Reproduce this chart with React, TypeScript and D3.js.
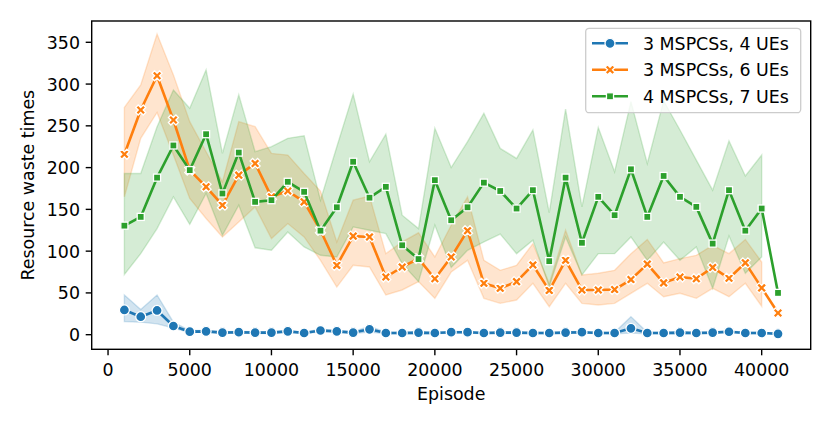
import React from "react";
import * as d3 from "d3";

const episodes = [1000, 2000, 3000, 4000, 5000, 6000, 7000, 8000, 9000, 10000, 11000, 12000, 13000, 14000, 15000, 16000, 17000, 18000, 19000, 20000, 21000, 22000, 23000, 24000, 25000, 26000, 27000, 28000, 29000, 30000, 31000, 32000, 33000, 34000, 35000, 36000, 37000, 38000, 39000, 40000, 41000];

const blueMean = [29.6, 21.5, 29, 10.4, 3.6, 4, 2.5, 3, 2.5, 2.5, 4, 2, 5, 4, 2.5, 6.4, 2, 2, 2.5, 2, 3, 3, 2, 2.5, 2.5, 2, 2, 2.5, 3, 2, 2, 7.6, 2, 2, 2.5, 2, 2.5, 3.5, 2, 2, 1];
const blueLow = [15.6, 15, 13, 8, 2.5, 3, 1.5, 2, 1.5, 1.5, 3, 1, 3.5, 3, 1.5, 3, 1, 1, 1.5, 1, 2, 2, 1, 1.5, 1.5, 1, 1, 1.5, 2, 1, 1, 2, 1, 1, 1.5, 1, 1.5, 2.5, 1, 1, null];
const blueHigh = [47.5, 30, 47.5, 15, 5, 5, 3.5, 4, 3.5, 3.5, 5, 3, 6.5, 5, 3.5, 10, 3, 3, 3.5, 3, 4, 4, 3, 3.5, 3.5, 3, 3, 3.5, 4, 3, 3, 21.5, 3, 3, 3.5, 3, 3.5, 4.5, 3, 3, null];

const orangeMean = [216, 269, 310, 257, 197, 177, 155, 191, 205, 165, 172, 159, 125, 83, 118, 117, 69, 81, 91, 67, 93, 124.5, 61.5, 55.5, 63.5, 83.5, 53, 89, 53.5, 53.5, 54, 66, 84.5, 62, 69, 67, 80.5, 67.5, 86, 56, 26];
const orangeHigh = [272, 299, 360, 311, 255, 219, 183, 255, 249, 217, 215, 193, 172, 111, 161, 166, 97, 111, 122, 93, 131, 165, 89, 77, 83, 109, 61.5, 125, 71.5, 73.5, 77, 97, 114, 86, 91, 95, 107, 97, 114, 87, null];
const orangeLow = [165, 235, 266, 215, 163, 139, 117, 135, 153, 115, 133, 117, 89, 57, 83, 81, 47.5, 53.5, 63.5, 43.5, 75, 89, 43.5, 37.5, 41.5, 61.5, 33.5, 61.5, 37.5, 35.5, 37.5, 49.5, 61.5, 45.5, 49.5, 43.5, 55.5, 45.5, 61.5, 34, null];

const greenMean = [130.5, 141, 188, 226.5, 197, 240, 169, 218, 159, 161, 183, 171, 124.5, 152.5, 207, 164, 177, 107, 90.5, 185, 137, 152.5, 182, 172, 151, 173, 88, 188, 110, 165, 143, 198, 141, 190, 165, 153, 109, 173, 124.5, 151, 50];
const greenHigh = [193, 193, 249, 293, 271, 317, 217, 287, 219, 225, 235, 238, 161, 225, 288, 207, 240, 143, 127, 247, 200, 231, 265, 223, 211, 245, 146, 270, 153, 248, 195, 279, 205, 280, 245, 209, 173, 232, 190, 215, null];
const greenLow = [72, 97, 127, 165, 132, 169, 119, 155, 104, 101, 123, 105, 95, 93, 129, 125, 121, 85, 63.5, 131, 80.5, 101, 111, 120.5, 97, 113, 57.5, 117, 71.5, 97, 97, 117, 89, 111, 89, 105, 55.5, 118, 73.5, 93, null];

const seriesNames = ["3 MSPCSs, 4 UEs", "3 MSPCSs, 6 UEs", "4 MSPCSs, 7 UEs"];
const seriesColors = ["#1f77b4", "#ff7f0e", "#2ca02c"];
const seriesMarkers = ["circle", "x", "square"];

const xTicks = [0, 5000, 10000, 15000, 20000, 25000, 30000, 35000, 40000];
const yTicks = [0, 50, 100, 150, 200, 250, 300, 350];

const W = 830;
const H = 425;
const L = 91.7, R = 810.7, T = 21, B = 349.3;
const FONT = "DejaVu Sans, Verdana, sans-serif";
const FS = 17.4;

const x = d3.scaleLinear().domain([-1000, 43000]).range([L, R]);
const y = d3.scaleLinear().domain([-17.5, 375.5]).range([B, T]);

const MS = 10;
const xFilledPts = [[-1, -2], [0, -1], [1, -2], [2, -1], [1, 0], [2, 1], [1, 2], [0, 1], [-1, 2], [-2, 1], [-1, 0], [-2, -1]];
const xPath =
  "M" + xFilledPts.map(([a, b]) => ((a / 4) * MS).toFixed(2) + "," + ((b / 4) * MS).toFixed(2)).join("L") + "Z";

function Marker({ kind, cx, cy, color }: { kind: string; cx: number; cy: number; color: string }) {
  const sw = 1.3;
  if (kind === "circle") return <circle cx={cx} cy={cy} r={MS / 2} fill={color} stroke="#fff" strokeWidth={sw} />;
  if (kind === "square") {
    const h = (MS * 0.7071) / 2;
    return <rect x={cx - h} y={cy - h} width={2 * h} height={2 * h} fill={color} stroke="#fff" strokeWidth={sw} />;
  }
  return <path d={xPath} transform={`translate(${cx},${cy})`} fill={color} stroke="#fff" strokeWidth={sw} strokeLinejoin="miter" />;
}

export default function App() {
  const means = [blueMean, orangeMean, greenMean];
  const lows = [blueLow, orangeLow, greenLow];
  const highs = [blueHigh, orangeHigh, greenHigh];

  const bands = means.map((_, si) => {
    const idx = episodes.map((_, i) => i).filter((i) => highs[si][i] !== null && lows[si][i] !== null);
    const a = d3
      .area<number>()
      .x((i) => x(episodes[i]))
      .y0((i) => y(lows[si][i] as number))
      .y1((i) => y(highs[si][i] as number));
    return a(idx) || "";
  });

  const line = (vals: number[]) =>
    d3
      .line<number>()
      .x((_, i) => x(episodes[i]))
      .y((v) => y(v))(vals) || "";

  const legX = 585.7, legY = 28.3, legW = 215, legH = 84.4;
  const rowY = [43.3, 69.8, 96.3];

  return (
    <svg width={W} height={H} style={{ position: "absolute", left: 0, top: 0, background: "#fff" }} fontFamily={FONT}>
      <rect x={0} y={0} width={W} height={H} fill="#fff" />
      <defs>
        <clipPath id="plot">
          <rect x={L} y={T} width={R - L} height={B - T} />
        </clipPath>
      </defs>
      <g clipPath="url(#plot)">
        {bands.map((d, si) => (
          <path key={"b" + si} d={d} fill={seriesColors[si]} fillOpacity={0.2} stroke={seriesColors[si]} strokeOpacity={0.2} strokeWidth={1.4} />
        ))}
        {means.map((vals, si) => (
          <g key={"l" + si}>
            <path d={line(vals)} fill="none" stroke={seriesColors[si]} strokeWidth={2.6} strokeLinejoin="round" strokeLinecap="square" />
            {vals.map((v, i) => (
              <Marker key={i} kind={seriesMarkers[si]} cx={x(episodes[i])} cy={y(v)} color={seriesColors[si]} />
            ))}
          </g>
        ))}
      </g>
      <rect x={L} y={T} width={R - L} height={B - T} fill="none" stroke="#000" strokeWidth={1.4} />
      {xTicks.map((t) => (
        <g key={"xt" + t}>
          <line x1={x(t)} x2={x(t)} y1={B} y2={B + 6} stroke="#000" strokeWidth={1.4} />
          <text x={x(t)} y={376} textAnchor="middle" fontSize={FS} fill="#000">
            {t}
          </text>
        </g>
      ))}
      {yTicks.map((t) => (
        <g key={"yt" + t}>
          <line x1={L - 6} x2={L} y1={y(t)} y2={y(t)} stroke="#000" strokeWidth={1.4} />
          <text x={80} y={y(t) + 6.5} textAnchor="end" fontSize={FS} fill="#000">
            {t}
          </text>
        </g>
      ))}
      <text x={(L + R) / 2} y={400} textAnchor="middle" fontSize={FS} fill="#000">
        Episode
      </text>
      <text transform={`translate(34,${(T + B) / 2}) rotate(-90)`} textAnchor="middle" fontSize={FS} fill="#000">
        Resource waste times
      </text>
      <rect x={legX} y={legY} width={legW} height={legH} rx={3.5} ry={3.5} fill="#fff" fillOpacity={0.8} stroke="#cccccc" strokeWidth={1.3} />
      {seriesNames.map((name, si) => (
        <g key={"lg" + si}>
          <line x1={592} x2={628} y1={rowY[si]} y2={rowY[si]} stroke={seriesColors[si]} strokeWidth={2.6} />
          <Marker kind={seriesMarkers[si]} cx={610} cy={rowY[si]} color={seriesColors[si]} />
          <text x={643} y={rowY[si] + 6.3} fontSize={FS} fill="#000">
            {name}
          </text>
        </g>
      ))}
    </svg>
  );
}
